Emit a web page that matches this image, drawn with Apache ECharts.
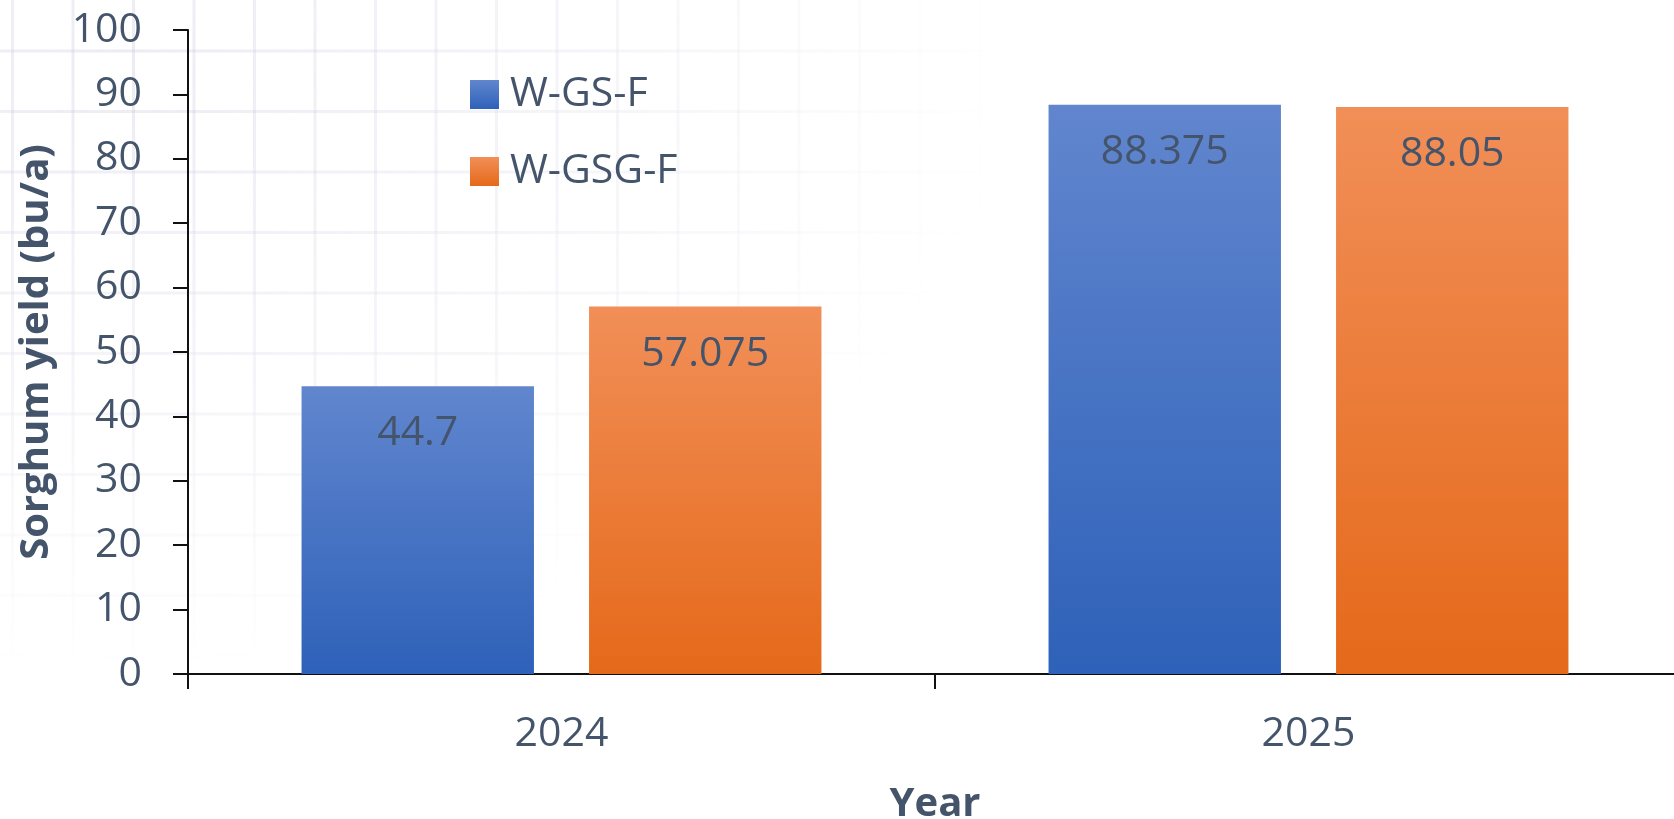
<!DOCTYPE html>
<html>
<head>
<meta charset="utf-8">
<style>
  html, body { margin: 0; padding: 0; background: #ffffff; }
  #wrap { position: relative; width: 1674px; height: 819px; overflow: hidden; }
  /* faint graph-paper backdrop fading out from the upper left */
  #paper {
    position: absolute; left: 0; top: 0; width: 1674px; height: 819px;
    background-image:
      linear-gradient(to right, rgba(200, 200, 222, 0.35) 3px, transparent 3px),
      linear-gradient(to bottom, rgba(200, 200, 222, 0.35) 3px, transparent 3px);
    background-size: 60.5px 60.5px;
    background-position: 11px -11px;
    -webkit-mask-image: radial-gradient(ellipse 900px 620px at 120px 60px, rgba(0,0,0,1) 0%, rgba(0,0,0,0.6) 45%, rgba(0,0,0,0) 100%);
    mask-image: radial-gradient(ellipse 900px 620px at 120px 60px, rgba(0,0,0,1) 0%, rgba(0,0,0,0.6) 45%, rgba(0,0,0,0) 100%);
  }
  #chart { position: absolute; left: 0; top: 0; width: 1674px; height: 819px; }
</style>
<script src="https://cdn.jsdelivr.net/npm/echarts@6/dist/echarts.min.js"></script>
</head>
<body>
<div id="wrap">
  <div id="paper"></div>
  <div id="chart"></div>
</div>
<script>
// Sorghum yield by rotation and year
const years = ['2024', '2025'];
const seriesNames = ['W-GS-F', 'W-GSG-F'];
const wgsf = [44.7, 88.375];
const wgsgf = [57.075, 88.05];
const yTicks = { min: 0, max: 100, step: 10 };

const FONT = '"Open Sans", "Noto Sans", sans-serif';
const TEXT = '#44546a';

function grad(top, bottom) {
  return new echarts.graphic.LinearGradient(0, 0, 0, 1, [
    { offset: 0, color: top },
    { offset: 1, color: bottom }
  ]);
}

const blue = grad('#6186ce', '#2e61b9');
const orange = grad('#f18f58', '#e5691a');

const barLabel = {
  show: true,
  position: 'insideTop',
  distance: 27,
  color: TEXT,
  fontFamily: FONT,
  fontSize: 41,
  lineHeight: 41
};

const chart = echarts.init(document.getElementById('chart'), null, { renderer: 'canvas' });
chart.setOption({
  backgroundColor: 'transparent',
  animation: false,
  grid: { left: 188, top: 30, width: 1494, height: 644, outerBoundsMode: 'none', containLabel: false },
  legend: {
    orient: 'vertical',
    left: 465,
    top: 69,
    itemWidth: 29,
    itemHeight: 29,
    itemGap: 36,
    icon: 'rect',
    textStyle: { color: TEXT, fontFamily: FONT, fontSize: 41, lineHeight: 41, padding: [0, 0, 0, 6] },
    data: seriesNames
  },
  xAxis: {
    type: 'category',
    data: years,
    name: 'Year',
    nameLocation: 'middle',
    nameGap: 111,
    nameTextStyle: { color: TEXT, fontFamily: FONT, fontSize: 40, fontWeight: 'bold' },
    axisLine: { show: true, lineStyle: { color: '#111', width: 2 } },
    axisTick: { show: true, length: 15, lineStyle: { color: '#111', width: 2 } },
    axisLabel: { color: TEXT, fontFamily: FONT, fontSize: 41, margin: 40 },
    splitLine: { show: false }
  },
  yAxis: {
    type: 'value',
    min: yTicks.min,
    max: yTicks.max,
    interval: yTicks.step,
    name: 'Sorghum yield (bu/a)',
    nameLocation: 'middle',
    nameGap: 131,
    nameTextStyle: { color: TEXT, fontFamily: FONT, fontSize: 40, fontWeight: 'bold' },
    axisLine: { show: true, lineStyle: { color: '#111', width: 2 } },
    axisTick: { show: true, length: 15, lineStyle: { color: '#111', width: 2 } },
    axisLabel: { color: TEXT, fontFamily: FONT, fontSize: 41, margin: 46 },
    splitLine: { show: false }
  },
  series: [
    {
      name: seriesNames[0],
      type: 'bar',
      data: wgsf,
      barGap: '23.7%',
      barCategoryGap: '30.4%',
      itemStyle: { color: blue },
      label: barLabel
    },
    {
      name: seriesNames[1],
      type: 'bar',
      data: wgsgf,
      barGap: '23.7%',
      barCategoryGap: '30.4%',
      itemStyle: { color: orange },
      label: barLabel
    }
  ]
});
</script>
</body>
</html>
